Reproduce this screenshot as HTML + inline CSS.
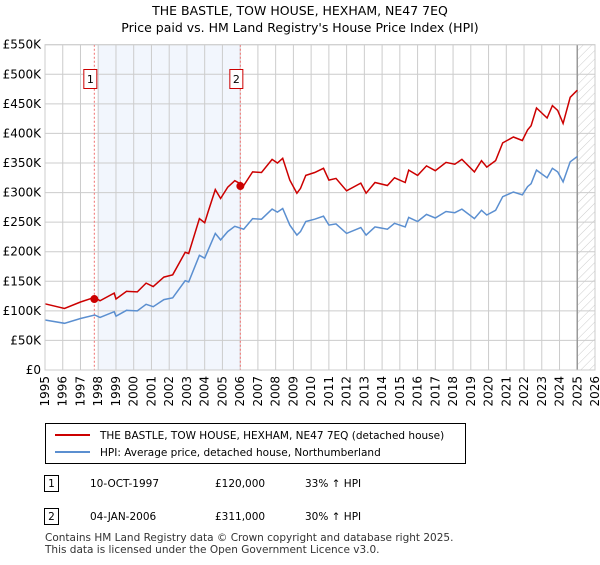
<!DOCTYPE html>
<html><head><meta charset="utf-8"><style>
body{margin:0;background:#fff;font-family:"Liberation Sans",sans-serif;}
svg text{font-family:"DejaVu Sans","Liberation Sans",sans-serif;}
</style></head><body>
<svg id="c" width="600" height="560" viewBox="0 0 600 560" xmlns="http://www.w3.org/2000/svg">
<defs><pattern id="hatch" width="6" height="6" patternUnits="userSpaceOnUse" patternTransform="rotate(45)"><line x1="0" y1="0" x2="0" y2="6" stroke="#ccc" stroke-width="1"/></pattern></defs>
<text x="300" y="15" text-anchor="middle" font-size="12.5" fill="#000">THE BASTLE, TOW HOUSE, HEXHAM, NE47 7EQ</text>
<text x="300" y="32" text-anchor="middle" font-size="12.5" fill="#000">Price paid vs. HM Land Registry's House Price Index (HPI)</text>
<g id="plot"></g>
<g>
<rect x="45.5" y="423.5" width="420" height="40" fill="#fff" stroke="#000"/>
<line x1="55" y1="435" x2="90" y2="435" stroke="#cc0000" stroke-width="2"/>
<text x="100" y="439" font-size="10.5">THE BASTLE, TOW HOUSE, HEXHAM, NE47 7EQ (detached house)</text>
<line x1="55" y1="452" x2="90" y2="452" stroke="#5b8fd0" stroke-width="2"/>
<text x="100" y="456" font-size="10.5">HPI: Average price, detached house, Northumberland</text>
</g>
<g font-size="10.5">
<rect x="44.5" y="475.5" width="14" height="16" fill="#fff" stroke="#000"/><text x="51.5" y="487" text-anchor="middle">1</text>
<text x="90" y="487">10-OCT-1997</text><text x="215" y="487">£120,000</text><text x="305" y="487">33% ↑ HPI</text>
<rect x="44.5" y="508.5" width="14" height="16" fill="#fff" stroke="#000"/><text x="51.5" y="520" text-anchor="middle">2</text>
<text x="90" y="520">04-JAN-2006</text><text x="215" y="520">£311,000</text><text x="305" y="520">30% ↑ HPI</text>
</g>
<text x="45" y="541" font-size="10.5" fill="#333">Contains HM Land Registry data © Crown copyright and database right 2025.</text>
<text x="45" y="553" font-size="10.5" fill="#333">This data is licensed under the Open Government Licence v3.0.</text>
</svg>
<script>
const dates=[1995.0,1996.1,1997.0,1997.8,1998.1,1998.9,1999.0,1999.6,2000.2,2000.7,2001.1,2001.7,2002.2,2002.9,2003.1,2003.7,2004.0,2004.2,2004.6,2004.9,2005.3,2005.7,2006.2,2006.7,2007.2,2007.8,2008.1,2008.4,2008.8,2009.2,2009.4,2009.7,2010.2,2010.7,2011.0,2011.4,2012.0,2012.8,2013.1,2013.6,2014.3,2014.7,2015.3,2015.5,2016.0,2016.5,2017.0,2017.6,2018.1,2018.5,2019.2,2019.6,2019.9,2020.4,2020.8,2021.4,2021.9,2022.2,2022.4,2022.7,2023.3,2023.6,2023.9,2024.2,2024.6,2025.0];
const hpiValues=[84.5,79,87,93,89,98.6,91,101,100,111,107,119,122,151,149,194,189,203,231,220,234,243,238,256,255,272,267,273,245,228,234,251,255,260,245,247,231,241,228,242,238,248,242,258,251,263,257,268,266,272,256,270,262,270,293,301,296,310,315,338,325,341,335,318,352,361];
const priceValues=[112,104,115,123,117,130,120,133,132,147,141,157,161,199,197,256,249,268,305,290,309,320,312,335,334,356,350,358,321,299,307,329,334,341,321,324,303,316,299,317,312,325,317,338,329,345,337,351,348,356,335,354,343,354,384,394,388,406,413,443,426,447,439,417,461,473];
const saleDates=[1997.78,2006.01];
const salePrices=[120,311];
const saleLabels=["1","2"];
const yTicks=[0,50,100,150,200,250,300,350,400,450,500,550];
const yTickLabels=["£0","£50K","£100K","£150K","£200K","£250K","£300K","£350K","£400K","£450K","£500K","£550K"];
const xTicks=[1995,1996,1997,1998,1999,2000,2001,2002,2003,2004,2005,2006,2007,2008,2009,2010,2011,2012,2013,2014,2015,2016,2017,2018,2019,2020,2021,2022,2023,2024,2025,2026];
const X0=45,X1=595,Y0=370,Y1=44.7;
const xs=v=>X0+(v-1995)/(2026-1995)*(X1-X0);
const ys=v=>Y0-(v/550)*(Y0-Y1);
const NS="http://www.w3.org/2000/svg";
const g=document.getElementById('plot');
function mk(t,a,p){const e=document.createElementNS(NS,t);for(const k in a)e.setAttribute(k,a[k]);(p||g).appendChild(e);return e;}
let e;
e=mk('rect',{x:xs(saleDates[0])+3,y:Y1,width:xs(saleDates[1])-xs(saleDates[0])-3,height:Y0-Y1,fill:'#eef3fc',opacity:0.75});


e=mk('rect',{x:xs(2025),y:Y1,width:X1-xs(2025),height:Y0-Y1,fill:'url(#hatch)'});


xTicks.forEach((t,i)=>{
 e=mk('line',{x1:xs(t),x2:xs(t),y1:Y1,y2:Y0,stroke:'#ccc','stroke-width':1});
 
 
 const x=xs(t)+4,y=Y0+6;
 e=mk('text',{x:x,y:y,'text-anchor':'end','font-size':12,transform:'rotate(-90 '+x+' '+y+')'});
 e.textContent=t;
 
 
});
yTicks.forEach((t,i)=>{
 e=mk('line',{x1:X0,x2:X1,y1:ys(t),y2:ys(t),stroke:'#ccc','stroke-width':1});
 
 
 e=mk('text',{x:X0-4,y:ys(t)+4,'text-anchor':'end','font-size':12});
 e.textContent=yTickLabels[i];
 
 
});
e=mk('line',{x1:xs(2025),x2:xs(2025),y1:Y1,y2:Y0,stroke:'#999','stroke-width':1.5});


saleDates.forEach((d,i)=>{
 e=mk('line',{x1:xs(d),x2:xs(d),y1:Y1,y2:Y0,stroke:'#f07070','stroke-width':1,'stroke-dasharray':'2,2'});
 
 
 e=mk('rect',{x:xs(d)-10.5,y:69.5,width:13,height:19,fill:'#fff',stroke:'#cc0000'});
 
 
 e=mk('text',{x:xs(d)-4,y:83,'text-anchor':'middle','font-size':11});
 e.textContent=saleLabels[i];
 
 
});
const path=vals=>dates.map((d,i)=>(i?'L':'M')+xs(d).toFixed(1)+','+ys(vals[i]).toFixed(1)).join('');
e=mk('path',{d:path(hpiValues),fill:'none',stroke:'#5b8fd0','stroke-width':1.5});


e=mk('path',{d:path(priceValues),fill:'none',stroke:'#cc0000','stroke-width':1.5});


saleDates.forEach((d,i)=>{
 e=mk('circle',{cx:xs(d),cy:ys(salePrices[i]),r:4,fill:'#cc0000'});
 
 
});
e=mk('rect',{x:X0,y:Y1,width:X1-X0,height:Y0-Y1,fill:'none',stroke:'#ccc'});


</script>
</body></html>
